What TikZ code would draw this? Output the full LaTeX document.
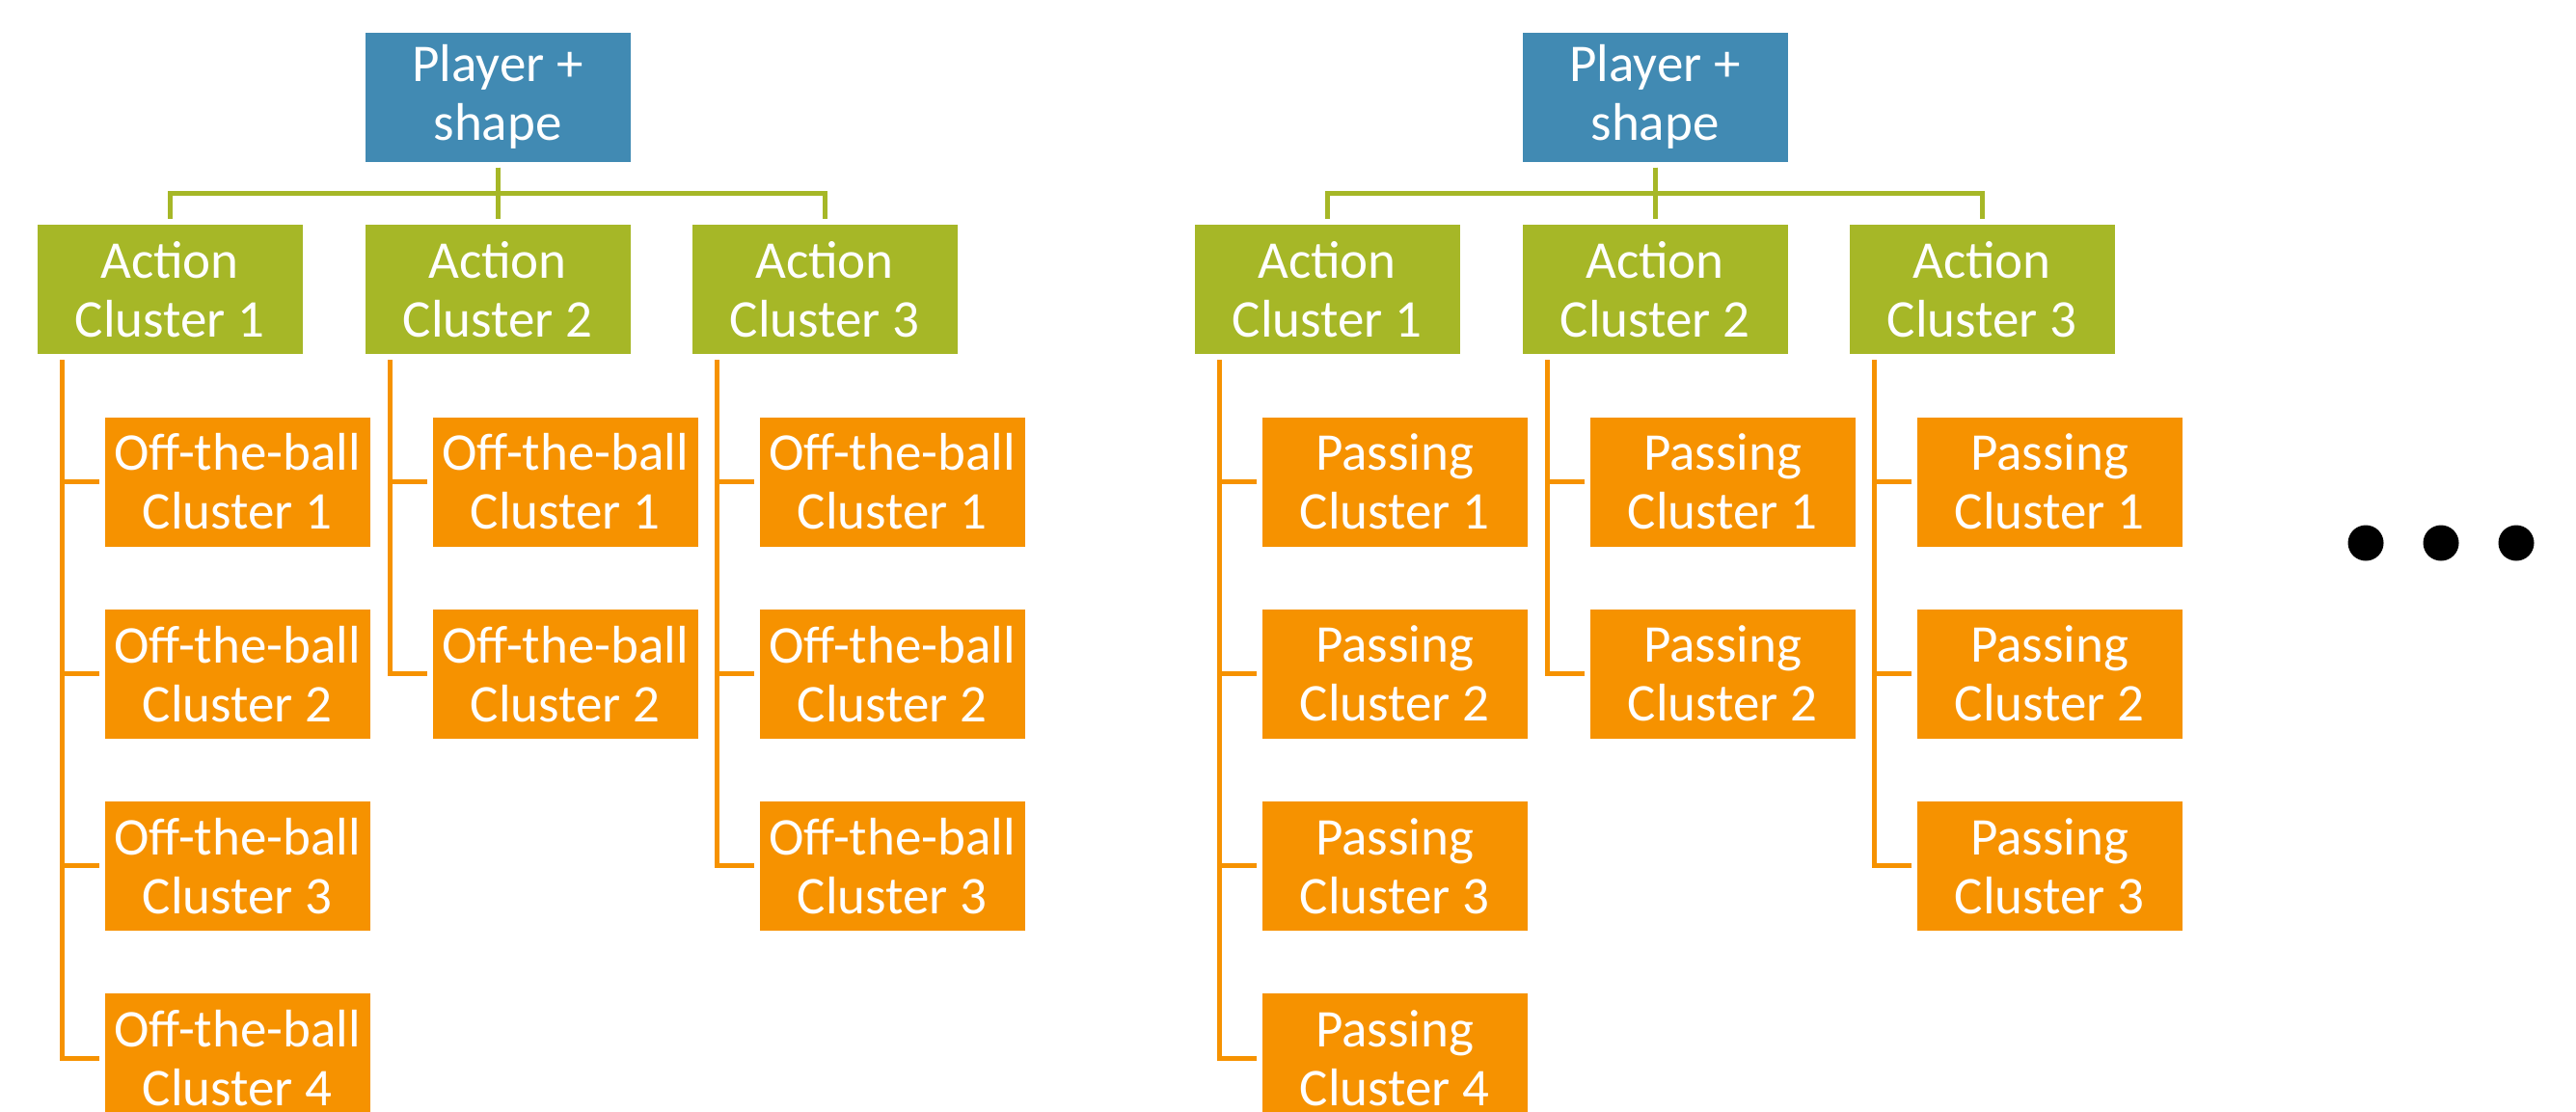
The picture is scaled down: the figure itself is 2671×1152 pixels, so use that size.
\documentclass[tikz,border=0pt]{standalone}
\usepackage{fontspec}
\setmainfont{Carlito}
\definecolor{topblue}{HTML}{418AB3}
\definecolor{actgreen}{HTML}{A6B727}
\definecolor{suborange}{HTML}{F69200}

\tikzset{
  box/.style={minimum width=137.5pt, minimum height=67pt, inner sep=0pt,
    outer sep=3pt, text=white, align=center,
    font=\fontsize{27.5}{30.5}\selectfont},
  rootbox/.style={box, fill=topblue},
  actbox/.style={box, fill=actgreen},
  subbox/.style={box, fill=suborange},
  greenlink/.style={draw=actgreen, line width=2.5pt},
  orangelink/.style={draw=suborange, line width=2.5pt},
  dotmark/.style={circle, fill=black, minimum size=18.5pt, inner sep=0pt},
}

% One hierarchy: root, three action clusters, and their sub-clusters.
% #1 = horizontal offset, #2 = node-name prefix, #3 = sub-cluster label
\newcommand\clustertree[3]{%
  \begin{scope}[shift={(#1,0)}]
    \node[rootbox] (#2p) at (516,100.5) {Player +\\shape};
    \node[actbox] (#2a1) at (176,300.4) {Action\\Cluster 1};
    \node[actbox] (#2a2) at (516,300.4) {Action\\Cluster 2};
    \node[actbox] (#2a3) at (855,300.4) {Action\\Cluster 3};
    \draw[greenlink] (#2p.south) -- (#2a2.north);
    \draw[greenlink] (#2p.south) -- ++(0,26.5) -| (#2a1.north);
    \draw[greenlink] (#2p.south) -- ++(0,26.5) -| (#2a3.north);
    \foreach \c/\n/\x in {1/4/246, 2/2/586, 3/3/925} {
      \foreach \r in {1,...,\n} {
        \node[subbox] (#2s\c\r) at (\x,{499.5+199.2*(\r-1)}) {#3\\Cluster \r};
        \draw[orangelink] ([xshift=-56pt]#2a\c.south) |- (#2s\c\r.west);
      }
    }
  \end{scope}}

\begin{document}
\begin{tikzpicture}[x=0.5pt, y=-0.5pt]
  \useasboundingbox (0,0) rectangle (2671,1152);
  \clip (0,0) rectangle (2671,1152);
  \clustertree{0}{L}{Off-the-ball}
  \clustertree{1200}{R}{Passing}
  \node[dotmark] (dot1) at (2453,563) {};
  \node[dotmark] (dot2) at (2531,563) {};
  \node[dotmark] (dot3) at (2609,563) {};
\end{tikzpicture}
\end{document}
